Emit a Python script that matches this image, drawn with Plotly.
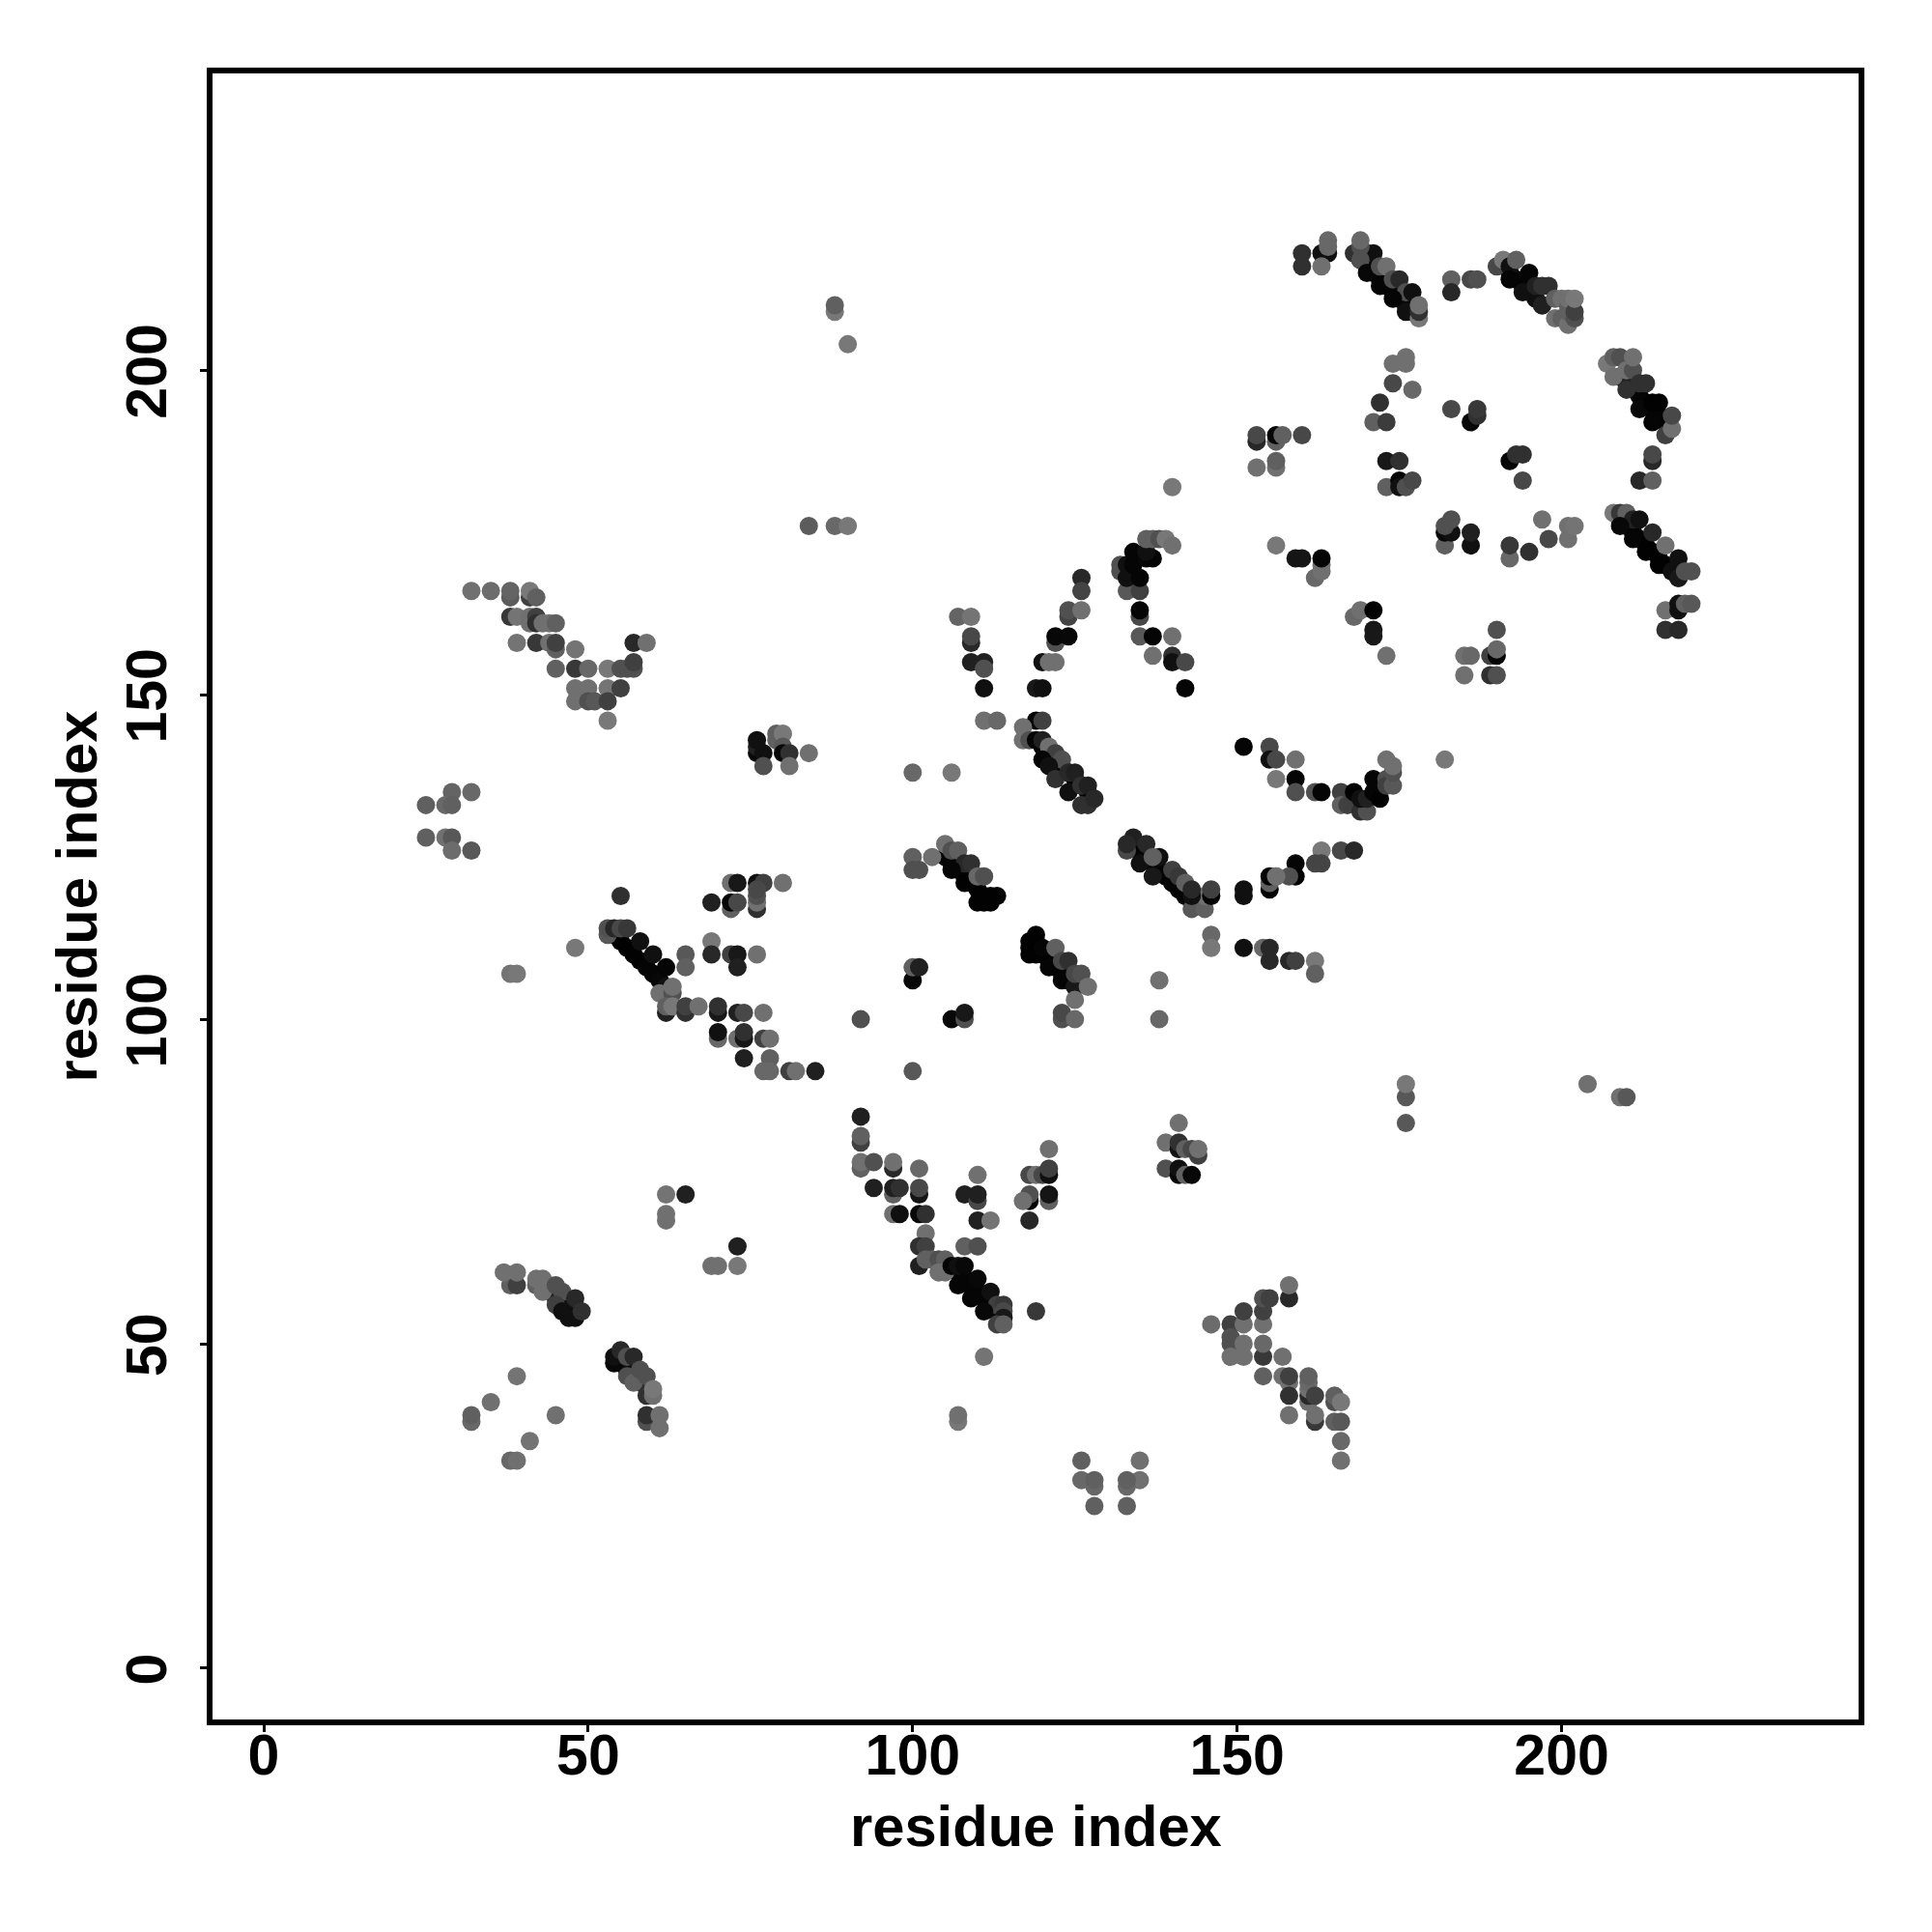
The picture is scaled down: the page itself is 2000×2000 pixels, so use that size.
import plotly.graph_objects as go

# Each contact: (residue x, residue y, grey level 0-255)
chains_dark = [
 (169,217,0x08),(170,216,0x08),(171,215,0x08),(172,214,0x05),(173,213,0x05),(174,212,0x05),(175,211,0x05),(176,210,0x08),(177,209,0x10),
 (192,215,0x05),(193,214,0x05),(194,213,0x05),(195,212,0x10),(196,211,0x10),(197,210,0x20),
 (209,199,0x20),(210,198,0x20),(211,197,0x20),(212,196,0x05),(213,195,0x05),(214,194,0x05),(215,193,0x05),(216,192,0x05),
 (209,177,0x05),(210,176,0x05),(211,175,0x05),(212,174,0x05),(213,173,0x02),(214,172,0x02),(215,171,0x02),(216,170,0x02),(217,169,0x10),(218,168,0x18),
 (120,142,0x05),(121,141,0x05),(122,140,0x05),(123,139,0x05),(124,138,0x05),(125,137,0x05),(126,136,0x05),(127,135,0x05),
 (134,127,0x05),(135,126,0x05),(136,125,0x05),(137,124,0x05),(138,123,0x05),(139,122,0x05),(140,121,0x05),(141,120,0x05),(142,119,0x05),(143,118,0x05),
 (105,125,0x05),(106,124,0x05),(107,123,0x05),(108,122,0x05),(109,121,0x05),(110,120,0x02),(111,119,0x02),
 (120,110,0x02),(121,109,0x02),(122,108,0x05),(123,107,0x05),(124,106,0x05),
 (54,113,0x05),(55,112,0x02),(56,111,0x02),(57,110,0x02),(58,109,0x02),(59,108,0x05),(60,107,0x05),(61,106,0x08),(62,105,0x10),
 (107,61,0x05),(108,60,0x05),(109,59,0x05),(110,58,0x05),(111,57,0x05),(112,56,0x05),(113,55,0x08),
 (47,55,0x10),(48,55,0x10),(46,56,0x10),(45,57,0x20),
 (55,47,0x08),(56,46,0x10),(57,45,0x20),(58,44,0x30),
]
upper_left = [
 (32,166,0x70),(35,166,0x6c),(38,165,0x5c),(38,166,0x64),(41,165,0x40),(41,166,0x78),(42,165,0x60),
 (38,162,0x38),(39,162,0x74),(41,161,0x70),(41,162,0x70),(42,162,0x40),(42,161,0x30),(43,161,0x70),(44,161,0x70),(45,161,0x60),
 (39,158,0x74),(42,158,0x38),(44,158,0x70),(45,157,0x60),(45,158,0x40),(48,157,0x74),(57,158,0x28),(59,158,0x70),
 (84,176,0x5c),(88,176,0x68),(90,176,0x78),(88,209,0x78),(88,210,0x60),(90,204,0x78),
 (45,154,0x60),(48,154,0x38),(50,154,0x68),(53,154,0x78),(55,154,0x50),(56,154,0x50),(57,154,0x50),(57,155,0x40),
 (48,151,0x70),(50,151,0x70),(53,151,0x74),(55,151,0x40),
 (48,149,0x70),(50,149,0x50),(51,149,0x58),(53,149,0x40),(53,146,0x78),
]
top_middle = [
 (140,182,0x78),(107,162,0x64),(109,162,0x74),(109,158,0x28),(109,159,0x48),(109,155,0x20),(111,155,0x20),(111,154,0x50),(111,151,0x10),
 (126,168,0x28),(126,166,0x44),(124,162,0x44),(124,163,0x50),(126,163,0x70),
 (122,158,0x50),(122,159,0x08),(124,159,0x08),(120,155,0x10),(121,155,0x70),(122,155,0x70),(119,151,0x18),(120,151,0x10),
 (135,162,0x48),(135,163,0x05),(135,159,0x58),(137,159,0x05),(140,159,0x70),(137,156,0x70),(140,156,0x30),(140,155,0x10),(142,155,0x48),(142,151,0x05),
 (133,166,0x58),(135,166,0x40),(132,169,0x50),(132,170,0x50),(133,168,0x10),(133,170,0x10),(134,170,0x05),(135,168,0x05),(136,171,0x08),(137,171,0x05),(134,172,0x05),(136,172,0x10),
 (136,174,0x60),(137,174,0x60),(138,174,0x50),(139,174,0x78),(140,173,0x70),
 (153,189,0x28),(153,190,0x48),(156,189,0x60),(156,190,0x05),(157,190,0x60),(153,185,0x70),(156,185,0x70),(156,186,0x60),(156,173,0x78),(160,190,0x48),
]
upper_right = [
 (160,218,0x30),(160,216,0x30),(163,218,0x10),(164,218,0x10),(164,219,0x68),(164,220,0x68),(163,216,0x70),
 (168,218,0x30),(170,218,0x10),(171,218,0x10),(169,217,0x50),(169,219,0x50),(169,220,0x68),(170,215,0x08),(172,216,0x50),(173,216,0x70),(172,213,0x05),
 (174,214,0x50),(175,214,0x28),(176,212,0x50),(177,212,0x10),(174,211,0x05),(176,209,0x10),(178,208,0x78),(178,209,0x30),(178,210,0x70),
 (183,214,0x60),(183,212,0x28),(186,214,0x48),(187,214,0x50),
 (190,216,0x48),(191,217,0x78),(192,216,0x10),(193,217,0x60),(192,214,0x05),(195,215,0x05),(194,212,0x10),(196,213,0x20),(197,213,0x30),(198,213,0x30),(197,210,0x20),
 (199,208,0x70),(200,208,0x60),(201,207,0x70),(199,211,0x60),(200,211,0x70),(201,209,0x60),(201,210,0x60),(201,211,0x70),(202,208,0x50),(202,209,0x40),(202,211,0x78),
 (174,201,0x70),(176,201,0x70),(176,202,0x70),(174,198,0x48),(177,197,0x68),(172,195,0x30),(171,192,0x60),(173,192,0x3c),
 (183,194,0x48),(186,192,0x08),(187,193,0x30),(187,194,0x38),
 (207,201,0x78),(208,199,0x70),(208,202,0x60),(209,202,0x50),(210,197,0x30),(210,200,0x70),(211,200,0x50),(211,202,0x70),(212,198,0x30),(213,198,0x30),
 (212,194,0x08),(214,195,0x02),(215,195,0x02),(214,192,0x05),(216,190,0x40),(217,191,0x70),(217,193,0x48),
 (173,186,0x18),(175,186,0x30),(173,182,0x60),(175,183,0x05),(175,182,0x10),(176,182,0x50),(177,183,0x48),
 (192,186,0x05),(193,187,0x30),(194,187,0x30),(194,183,0x48),
 (214,186,0x28),(214,187,0x48),(212,183,0x28),(214,183,0x60),
 (182,173,0x60),(182,175,0x08),(183,175,0x10),(182,176,0x50),(183,177,0x50),(186,173,0x10),(186,175,0x20),
 (197,177,0x70),(201,174,0x70),(201,176,0x70),(202,176,0x74),(198,174,0x48),(192,171,0x68),(192,173,0x38),(195,172,0x30),
 (208,178,0x78),(209,178,0x38),(210,178,0x60),(211,177,0x20),(212,177,0x10),(209,176,0x08),(214,175,0x28),(211,174,0x05),(213,172,0x02),(216,173,0x70),(215,170,0x02),
 (218,171,0x10),(217,169,0x10),(218,168,0x18),(219,169,0x50),(220,169,0x50),
 (216,163,0x70),(218,163,0x10),(218,164,0x10),(219,164,0x60),(220,164,0x58),(216,160,0x30),(218,160,0x28),
 (159,171,0x15),(160,171,0x15),(162,168,0x68),(163,169,0x70),(163,170,0x70),(163,171,0x05),
 (168,162,0x68),(169,163,0x70),(171,163,0x02),(171,159,0x18),(171,160,0x18),(173,156,0x70),
 (185,156,0x70),(186,156,0x68),(189,156,0x40),(190,156,0x05),(190,157,0x68),(190,160,0x50),(185,153,0x70),(189,153,0x30),(190,153,0x50),
]
right_middle = [
 (155,142,0x48),(151,142,0x05),(155,140,0x10),(156,140,0x48),(159,140,0x70),(156,137,0x78),(159,137,0x05),(159,135,0x50),(162,135,0x50),(163,135,0x05),
 (166,135,0x40),(166,133,0x60),(167,133,0x40),(168,135,0x02),(169,132,0x30),(170,132,0x50),(169,134,0x10),(170,134,0x20),(171,135,0x05),(171,137,0x05),(172,134,0x02),
 (173,137,0x50),(173,140,0x70),(173,136,0x40),(174,136,0x58),(174,138,0x50),(174,139,0x70),(182,140,0x78),
 (163,126,0x78),(162,124,0x44),(163,124,0x44),(166,126,0x48),(168,126,0x28),(159,124,0x05),(159,122,0x02),(158,122,0x50),(156,122,0x70),
 (158,109,0x28),(159,109,0x40),(162,109,0x78),(162,107,0x60),
 (176,84,0x58),(176,88,0x58),(176,90,0x78),(204,90,0x70),(209,88,0x70),(210,88,0x58),
]
left_middle = [
 (76,141,0x08),(76,142,0x20),(76,143,0x10),(77,141,0x10),(79,143,0x60),(79,144,0x60),(80,144,0x78),(80,142,0x58),(80,141,0x08),(81,141,0x30),(84,141,0x70),(77,139,0x50),(81,139,0x70),
 (29,135,0x64),(32,135,0x68),(25,133,0x60),(28,133,0x68),(29,133,0x60),(25,128,0x60),(28,128,0x70),(29,128,0x58),(29,126,0x6c),(32,126,0x58),
 (55,119,0x30),(72,121,0x70),(73,121,0x18),(76,121,0x10),(77,121,0x40),(80,121,0x70),
 (69,118,0x20),(72,117,0x60),(72,118,0x05),(73,118,0x48),(76,117,0x30),(76,118,0x70),(76,119,0x50),(76,120,0x48),
 (53,113,0x58),(53,114,0x50),(54,114,0x28),(55,114,0x48),(56,114,0x38),(58,112,0x10),(60,110,0x10),(62,108,0x05),(48,111,0x78),(38,107,0x74),(39,107,0x78),
 (69,112,0x78),(69,110,0x28),(72,110,0x40),(73,110,0x18),(73,108,0x20),(76,110,0x70),(65,110,0x58),(65,108,0x60),
 (61,104,0x70),(63,104,0x50),(63,105,0x70),(62,101,0x20),(62,102,0x60),(63,102,0x78),(65,101,0x30),(65,102,0x40),(67,102,0x70),
 (70,101,0x18),(70,102,0x30),(73,101,0x20),(74,101,0x48),(77,101,0x70),
 (70,97,0x68),(70,98,0x10),(73,97,0x70),(74,97,0x18),(74,98,0x30),(77,97,0x40),(78,97,0x70),
 (74,94,0x20),(78,94,0x60),(77,92,0x68),(78,92,0x68),(81,92,0x40),(82,92,0x70),(85,92,0x20),
]
center = [
 (111,146,0x70),(113,146,0x68),(119,146,0x05),(120,146,0x40),(117,145,0x70),(117,143,0x70),(118,143,0x50),
 (119,143,0x05),(120,143,0x20),(121,142,0x70),(122,141,0x40),(123,140,0x50),(120,140,0x05),(121,139,0x10),(122,137,0x30),(124,138,0x28),(125,138,0x20),
 (124,135,0x10),(126,136,0x30),(127,136,0x20),(126,133,0x30),(127,133,0x30),(128,134,0x28),(100,138,0x68),(106,138,0x78),
 (133,126,0x48),(134,128,0x20),(133,127,0x28),(136,127,0x28),(135,124,0x10),(138,125,0x10),(137,125,0x60),(137,122,0x18),(140,123,0x40),(141,122,0x38),(142,121,0x60),(143,117,0x58),(145,117,0x60),(145,119,0x70),(143,119,0x10),(143,120,0x28),(146,119,0x05),(146,120,0x40),
 (151,119,0x10),(151,120,0x10),(155,120,0x05),(155,121,0x60),(155,122,0x05),(156,122,0x70),
 (100,125,0x60),(100,123,0x50),(101,123,0x50),(103,125,0x70),(105,127,0x70),(106,126,0x50),(107,126,0x60),(108,124,0x28),(109,124,0x30),
 (110,118,0x02),(111,118,0x02),(112,118,0x02),(112,119,0x02),(113,119,0x02),(106,123,0x05),(108,121,0x02),(110,122,0x68),(111,122,0x50),
 (118,110,0x02),(118,111,0x02),(118,112,0x02),(119,110,0x02),(119,112,0x02),(119,113,0x02),(120,111,0x05),(122,111,0x60),(121,108,0x05),(123,109,0x48),(124,109,0x30),(123,106,0x05),
 (125,105,0x18),(125,107,0x48),(126,107,0x50),(127,105,0x70),(125,103,0x70),(123,100,0x50),(123,101,0x48),(125,100,0x68),
 (100,106,0x08),(100,108,0x60),(101,108,0x20),(92,100,0x50),(106,100,0x08),(108,100,0x50),(108,101,0x18),(100,92,0x58),
 (138,106,0x70),(138,100,0x68),(146,113,0x68),(146,111,0x78),(151,111,0x10),(154,111,0x68),(155,109,0x28),(155,111,0x28),
]
lower_left = [
 (62,73,0x74),(65,73,0x20),(62,70,0x70),(62,69,0x70),(73,65,0x20),(69,62,0x70),(70,62,0x70),(73,62,0x78),
 (38,59,0x60),(39,59,0x40),(37,61,0x70),(39,61,0x70),
 (42,59,0x60),(42,60,0x70),(43,60,0x70),(43,58,0x70),(44,59,0x70),(45,59,0x50),(46,58,0x50),(45,56,0x40),(46,55,0x10),(47,54,0x10),(48,54,0x10),(48,57,0x28),(49,55,0x30),
 (54,47,0x08),(54,48,0x10),(55,49,0x28),(56,48,0x50),(57,48,0x28),(56,45,0x50),(57,44,0x60),(59,42,0x30),(58,46,0x50),(59,45,0x50),(60,42,0x70),(60,43,0x78),
 (59,38,0x50),(59,39,0x30),(61,37,0x70),(61,39,0x70),
 (39,45,0x74),(35,41,0x70),(32,38,0x68),(32,39,0x60),(45,39,0x70),(41,35,0x74),(38,32,0x68),(39,32,0x70),
]
lower_middle = [
 (92,85,0x20),(92,81,0x40),(92,82,0x60),(92,77,0x60),(92,78,0x70),(94,78,0x50),(94,74,0x20),
 (97,77,0x28),(97,78,0x70),(97,73,0x60),(97,74,0x20),(98,74,0x30),(101,77,0x68),(101,73,0x15),(101,74,0x48),(97,70,0x70),(98,70,0x10),(101,70,0x08),(102,70,0x30),
 (102,67,0x70),(101,65,0x30),(102,65,0x40),(101,62,0x20),(102,63,0x60),(103,63,0x60),(104,63,0x50),(105,63,0x60),(104,61,0x70),(105,61,0x70),(106,62,0x05),(107,62,0x10),(108,62,0x08),
 (110,60,0x08),(112,58,0x10),(113,56,0x40),(114,56,0x38),(114,55,0x48),(114,54,0x18),(113,53,0x40),(114,53,0x60),(111,55,0x08),(109,57,0x05),(107,59,0x05),
 (119,55,0x38),(111,48,0x74),(107,38,0x78),(107,39,0x70),
 (108,73,0x20),(110,72,0x48),(110,73,0x20),(110,76,0x70),(110,69,0x20),(112,69,0x74),(108,65,0x60),(110,65,0x50),
 (118,76,0x48),(119,76,0x70),(120,76,0x48),(121,76,0x10),(121,77,0x40),(121,80,0x70),(118,72,0x05),(118,73,0x50),(117,72,0x70),(121,72,0x60),(121,73,0x15),(118,69,0x28),
 (141,84,0x70),(139,81,0x70),(141,80,0x10),(141,81,0x30),(142,80,0x60),(143,80,0x48),(144,79,0x40),(144,80,0x70),(139,77,0x50),(141,76,0x08),(141,77,0x10),(142,76,0x60),(143,76,0x08),
]
lower_right = [
 (146,53,0x6c),(149,53,0x40),(151,53,0x70),(151,55,0x40),(154,53,0x70),(154,55,0x40),(154,57,0x50),(155,57,0x40),
 (149,50,0x50),(149,51,0x50),(151,50,0x70),(149,48,0x70),(151,48,0x70),(154,48,0x38),(154,50,0x68),(154,45,0x60),
 (158,57,0x28),(158,59,0x70),(157,48,0x70),(157,45,0x70),(158,44,0x70),(158,45,0x40),(158,42,0x30),(158,39,0x70),
 (161,41,0x70),(161,42,0x28),(161,43,0x70),(161,44,0x68),(161,45,0x60),(162,38,0x38),(162,39,0x70),(162,42,0x40),
 (165,41,0x50),(165,42,0x60),(166,41,0x78),(165,38,0x60),(166,38,0x58),(166,35,0x68),(166,32,0x70),
 (126,32,0x60),(126,29,0x68),(128,28,0x68),(128,29,0x60),(128,25,0x60),(135,32,0x70),(135,29,0x70),(133,28,0x68),(133,29,0x60),(133,25,0x60),
]
x_ticks = [0, 50, 100, 150, 200]
y_ticks = [0, 50, 100, 150, 200]

regions = [chains_dark, upper_left, top_middle, upper_right, right_middle,
           left_middle, center, lower_left, lower_middle, lower_right]
contacts = [c for r in regions for c in r]
xs = [c[0] for c in contacts]
ys = [c[1] for c in contacts]
colors = [f"rgb({c[2]},{c[2]},{c[2]})" for c in contacts]

fig = go.Figure(go.Scatter(x=xs, y=ys, mode="markers",
                           marker=dict(size=19, color=colors, line=dict(width=0)),
                           showlegend=False))
font = "Liberation Sans, Arial, sans-serif"
axis = dict(showline=True, mirror=True, linewidth=6, linecolor="black",
            showgrid=False, zeroline=False, ticks="outside", ticklen=7, tickwidth=3, tickcolor="black",
            tickfont=dict(family=font, size=59, color="black", weight="bold"))
fig.update_xaxes(**axis, range=[-7.89, 245.76], tickvals=x_ticks, ticklabelstandoff=-27)
fig.update_yaxes(**axis, range=[-7.89, 245.73], tickvals=y_ticks, tickangle=-90, ticklabelstandoff=11, ticklabelshift=10,
                 title=dict(text="<b>residue index</b>", font=dict(family=font, size=59.7, color="black"), standoff=2))
fig.add_annotation(text="<b>residue index</b>", xref="paper", yref="paper", x=0.5, y=0, xanchor="center", yanchor="middle",
                   yshift=-110, showarrow=False, font=dict(family=font, size=59.7, color="black"))
fig.update_layout(width=2000, height=2000, autosize=False, paper_bgcolor="white", plot_bgcolor="white",
                  margin=dict(l=219.5, r=76, t=75.7, b=220, autoexpand=False))
fig.write_html("out.html", config={"displayModeBar": False}, post_script="document.body.style.margin='0';")
